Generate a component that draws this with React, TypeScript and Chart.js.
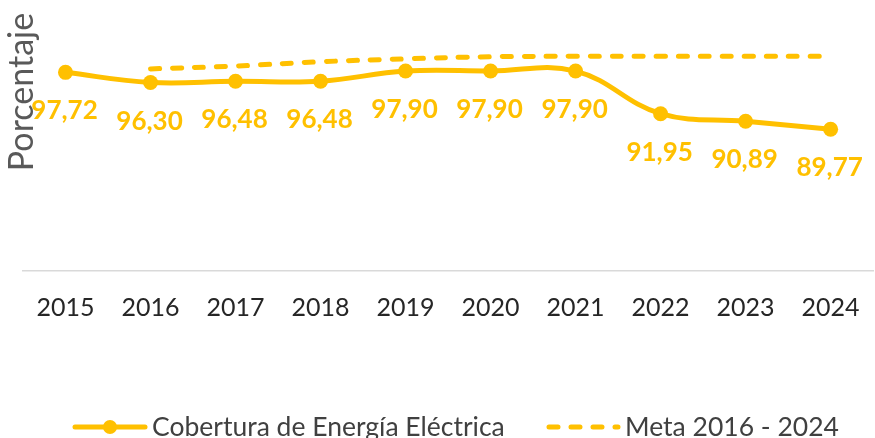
import React, { useEffect, useRef } from 'react';
import { Chart, registerables } from 'chart.js';

Chart.register(...registerables);

const years = ['2015', '2016', '2017', '2018', '2019', '2020', '2021', '2022', '2023', '2024'];
const cobertura = [97.72, 96.3, 96.48, 96.48, 97.9, 97.9, 97.9, 91.95, 90.89, 89.77];
const meta = [null, 98.2, 98.6, 99.2, 99.6, 99.9, 99.95, 99.95, 99.95, 99.95];
const seriesNames = ['Cobertura de Energía Eléctrica', 'Meta 2016 - 2024'];
const yTitle = 'Porcentaje';
const yMin = 70;
const yMax = 100;

const YELLOW = '#FFC000';
const FONT = 'Lato, "Open Sans", sans-serif';

const fmt = (v: number) => v.toFixed(2).replace('.', ',');

const labelPlugin = {
  id: 'valueLabels',
  afterDatasetsDraw(chart: any) {
    const ctx = chart.ctx;
    const meta0 = chart.getDatasetMeta(0);
    ctx.save();
    ctx.font = `bold 26px ${FONT}`;
    ctx.fillStyle = YELLOW;
    ctx.textAlign = 'center';
    ctx.textBaseline = 'alphabetic';
    meta0.data.forEach((pt: any, i: number) => {
      ctx.fillText(fmt(cobertura[i]), pt.x - 1, pt.y + 47);
    });
    ctx.restore();
  },
};

const titlePlugin = {
  id: 'yTitle',
  afterDraw(chart: any) {
    const ctx = chart.ctx;
    ctx.save();
    ctx.translate(22, 92);
    ctx.rotate(-Math.PI / 2);
    ctx.font = `34px ${FONT}`;
    ctx.fillStyle = '#595959';
    ctx.textAlign = 'center';
    ctx.textBaseline = 'middle';
    ctx.fillText(yTitle, 0, 0);
    ctx.restore();
  },
};

const legendPlugin = {
  id: 'customLegend',
  afterDraw(chart: any) {
    const ctx = chart.ctx;
    ctx.save();
    ctx.font = `26.5px ${FONT}`;
    const yLine = 427;
    const yText = 436;
    // item 1
    let x = 75;
    ctx.strokeStyle = YELLOW;
    ctx.lineWidth = 5;
    ctx.lineCap = 'round';
    ctx.beginPath();
    ctx.moveTo(x, yLine);
    ctx.lineTo(x + 70, yLine);
    ctx.stroke();
    ctx.fillStyle = YELLOW;
    ctx.beginPath();
    ctx.arc(x + 35, yLine, 7, 0, Math.PI * 2);
    ctx.fill();
    ctx.fillStyle = '#404040';
    ctx.textBaseline = 'alphabetic';
    ctx.textAlign = 'left';
    ctx.fillText(seriesNames[0], x + 77, yText);
    // item 2
    x = 547;
    ctx.strokeStyle = YELLOW;
    ctx.setLineDash([9, 13]);
    ctx.beginPath();
    ctx.moveTo(x + 2, yLine);
    ctx.lineTo(x + 71, yLine);
    ctx.stroke();
    ctx.setLineDash([]);
    ctx.fillStyle = '#404040';
    ctx.fillText(seriesNames[1], x + 78, yText);
    ctx.restore();
  },
};

export default function App() {
  const ref = useRef<HTMLCanvasElement | null>(null);
  useEffect(() => {
    if (!ref.current) return;
    const chart = new Chart(ref.current, {
      type: 'line',
      data: {
        labels: years,
        datasets: [
          {
            label: seriesNames[0],
            data: cobertura,
            borderColor: YELLOW,
            backgroundColor: YELLOW,
            borderWidth: 5,
            pointRadius: 7.5,
            pointBackgroundColor: YELLOW,
            pointBorderWidth: 0,
            tension: 0.4,
            clip: false as any,
          },
          {
            label: seriesNames[1],
            data: meta as any,
            borderColor: YELLOW,
            backgroundColor: YELLOW,
            borderWidth: 5,
            borderDash: [9, 13],
            borderCapStyle: 'round',
            pointRadius: 0,
            tension: 0.4,
            spanGaps: false,
            clip: false as any,
          },
        ],
      },
      options: {
        animation: false,
        responsive: false,
        maintainAspectRatio: false,
        layout: { padding: { left: 23, right: 0, top: 56, bottom: 93 } },
        plugins: {
          legend: { display: false },
          tooltip: { enabled: false },
          title: { display: false },
        },
        scales: {
          x: {
            offset: true,
            grid: { display: false, drawTicks: false },
            border: { display: true, color: '#D9D9D9', width: 1.5 },
            ticks: {
              color: '#262626',
              font: { family: FONT, size: 25 },
              padding: 22,
              maxRotation: 0,
              autoSkip: false,
            },
          },
          y: {
            display: false,
            min: yMin,
            max: yMax,
          },
        },
      },
      plugins: [labelPlugin, titlePlugin, legendPlugin],
    });
    return () => chart.destroy();
  }, []);
  return (
    <div style={{ position: 'fixed', left: 0, top: 0, width: 875, height: 438, overflow: 'hidden', background: '#fff' }}>
      <canvas ref={ref} width={882} height={438} style={{ display: 'block', width: 882, height: 438 }} />
    </div>
  );
}
